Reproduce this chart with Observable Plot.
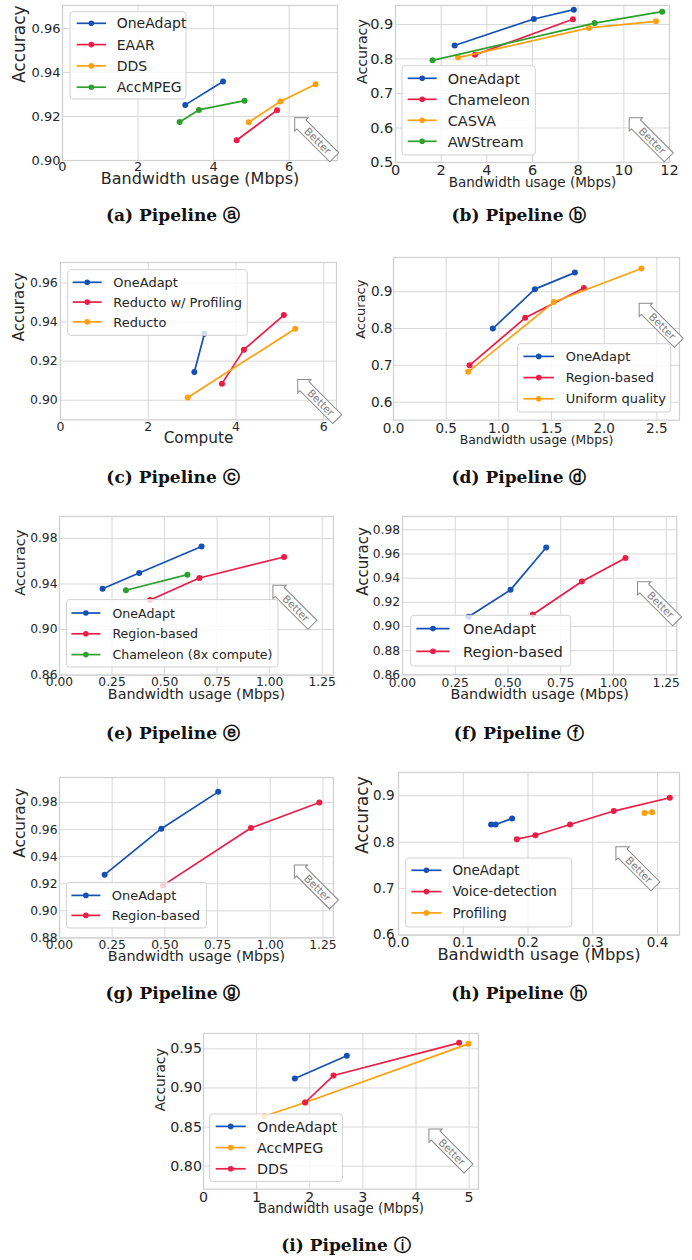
<!DOCTYPE html>
<html><head><meta charset="utf-8">
<script src="https://cdn.jsdelivr.net/npm/d3@7"></script>
<script src="https://cdn.jsdelivr.net/npm/@observablehq/plot@0.6"></script>
<style>
body{margin:0;background:#fff;}
#root{position:relative;width:692px;height:1260px;overflow:hidden;background:#fff;}
.cap{position:absolute;width:346px;text-align:center;font-family:"DejaVu Serif",serif;font-weight:bold;font-size:17px;color:#111;line-height:20px;}
</style></head><body><div id="root"></div>
<script>
// ---------- data ----------
const aSeries = ["OneAdapt","EAAR","DDS","AccMPEG"];
const aX = [[3.25,4.25],[4.61,5.68],[4.93,5.77,6.70],[3.10,3.61,4.82]];
const aY = [[0.9253,0.9359],[0.9092,0.9229],[0.9174,0.9268,0.9347],[0.9175,0.9230,0.9272]];
const aXTicks = [0,2,4,6];
const aYTicks = [0.90,0.92,0.94,0.96];

const bSeries = ["OneAdapt","Chameleon","CASVA","AWStream"];
const bX = [[2.59,6.06,7.81],[3.48,7.77],[2.74,8.47,11.41],[1.62,8.72,11.68]];
const bY = [[0.839,0.916,0.943],[0.812,0.915],[0.804,0.890,0.909],[0.796,0.904,0.937]];
const bXTicks = [0,2,4,6,8,10,12];
const bYTicks = [0.5,0.6,0.7,0.8,0.9];

const cSeries = ["OneAdapt","Reducto w/ Profiling","Reducto"];
const cX = [[3.05,3.28],[3.68,4.18,5.09],[2.90,5.35]];
const cY = [[0.9145,0.934],[0.9085,0.9259,0.9436],[0.9014,0.9366]];
const cXTicks = [0,2,4,6];
const cYTicks = [0.90,0.92,0.94,0.96];

const dSeries = ["OneAdapt","Region-based","Uniform quality"];
const dX = [[0.943,1.342,1.722],[0.722,1.25,1.807],[0.709,1.522,2.354]];
const dY = [[0.800,0.907,0.952],[0.700,0.829,0.910],[0.6825,0.872,0.963]];
const dXTicks = [0,0.5,1.0,1.5,2.0,2.5];
const dYTicks = [0.6,0.7,0.8,0.9];

const eSeries = ["OneAdapt","Region-based","Chameleon (8x compute)"];
const eX = [[0.205,0.379,0.676],[0.431,0.666,1.069],[0.316,0.609]];
const eY = [[0.9359,0.9496,0.973],[0.926,0.9453,0.9637],[0.9345,0.9482]];
const eXTicks = [0,0.25,0.5,0.75,1.0,1.25];
const eYTicks = [0.86,0.90,0.94,0.98];

const fSeries = ["OneAdapt","Region-based"];
const fX = [[0.313,0.512,0.681],[0.618,0.850,1.057]];
const fY = [[0.908,0.9303,0.9654],[0.9099,0.9372,0.9566]];
const fXTicks = [0,0.25,0.5,0.75,1.0,1.25];
const fYTicks = [0.86,0.88,0.90,0.92,0.94,0.96,0.98];

const gSeries = ["OneAdapt","Region-based"];
const gX = [[0.214,0.483,0.753],[0.491,0.908,1.233]];
const gY = [[0.9267,0.9607,0.9879],[0.9188,0.9612,0.980]];
const gXTicks = [0,0.25,0.5,0.75,1.0,1.25];
const gYTicks = [0.88,0.90,0.92,0.94,0.96,0.98];

const hSeries = ["OneAdapt","Voice-detection","Profiling"];
const hX = [[0.143,0.150,0.1755],[0.1827,0.2115,0.265,0.3325,0.419],[0.380,0.3917]];
const hY = [[0.838,0.838,0.851],[0.8065,0.815,0.838,0.867,0.8957],[0.8626,0.8647]];
const hXTicks = [0,0.1,0.2,0.3,0.4];
const hYTicks = [0.6,0.7,0.8,0.9];

const iSeries = ["OndeAdapt","AccMPEG","DDS"];
const iX = [[1.719,2.698],[1.142,1.913,4.987],[1.913,2.447,4.812]];
const iY = [[0.9121,0.9411],[0.8639,0.8814,0.9564],[0.8814,0.9159,0.9577]];
const iXTicks = [0,1,2,3,4,5];
const iYTicks = [0.80,0.85,0.90,0.95];

const captions = ["(a) Pipeline ⓐ","(b) Pipeline ⓑ","(c) Pipeline ⓒ","(d) Pipeline ⓓ","(e) Pipeline ⓔ","(f) Pipeline ⓕ","(g) Pipeline ⓖ","(h) Pipeline ⓗ","(i) Pipeline ⓘ"];

// ---------- styling / layout ----------
const BLUE="#1551b5", RED="#eb1c45", ORANGE="#ffa00f", GREEN="#2ca02c";
const BW = "Bandwidth usage (Mbps)";
const f0 = d3.format("d"), f1 = d3.format(".1f"), f2 = d3.format(".2f");

const panels = [
 {series:aSeries, xs:aX, ys:aY, colors:[BLUE,RED,ORANGE,GREEN], xTicks:aXTicks, yTicks:aYTicks, xFmt:f0, yFmt:f2, xLabel:BW,
  frame:[62,337,5,160], xDomain:[0,7.28], yDomain:[0.90,0.9705], tickFs:13, xPad:1.2, yPad:2, xlFs:16, xlDy:23.5, ylFs:17, ylDx:-43,
  legend:{box:[70,11.7,186,99], row0:23.3, step:21.3, lx:[76.7,106], tx:116.7, fs:14}, arrow:[314.5,137.5], cap:[173,215]},
 {series:bSeries, xs:bX, ys:bY, colors:[BLUE,RED,ORANGE,GREEN], xTicks:bXTicks, yTicks:bYTicks, xFmt:f0, yFmt:f1, xLabel:BW,
  frame:[395,669,5,162], xDomain:[0,12], yDomain:[0.5,0.955], tickFs:14.5, xPad:2.5, yPad:2.3, xlFs:13.5, xlDy:24.5, ylFs:14.2, ylDx:-33.3,
  legend:{box:[402,65.7,535.3,155], row0:78.3, step:21, lx:[407.7,436.7], tx:447.7, fs:14.5}, arrow:[649,137.5], cap:[519,215]},
 {series:cSeries, xs:cX, ys:cY, colors:[BLUE,RED,ORANGE], xTicks:cXTicks, yTicks:cYTicks, xFmt:f0, yFmt:f2, xLabel:"Compute",
  frame:[60,336,261.7,419], xDomain:[0,6.29], yDomain:[0.89,0.9705], tickFs:12.5, xPad:2, yPad:2.7, xlFs:15.3, xlDy:23.5, ylFs:15, ylDx:-41,
  legend:{box:[67.7,269.3,247.3,335], row0:282, step:19.8, lx:[72.7,101.7], tx:113.3, fs:13}, arrow:[317.5,399], cap:[173,477]},
 {series:dSeries, xs:dX, ys:dY, colors:[BLUE,RED,ORANGE], xTicks:dXTicks, yTicks:dYTicks, xFmt:f1, yFmt:f1, xLabel:BW,
  frame:[393.3,679.3,257.3,420], xDomain:[0,2.715], yDomain:[0.551,0.993], tickFs:13.6, xPad:3.5, yPad:1, xlFs:12.4, xlDy:24, ylFs:13, ylDx:-32.3,
  legend:{box:[517.7,344,671,412.3], row0:356.7, step:21.2, lx:[523.7,554.3], tx:566, fs:13}, arrow:[659.3,323.3], cap:[519,477]},
 {series:eSeries, xs:eX, ys:eY, colors:[BLUE,RED,GREEN], xTicks:eXTicks, yTicks:eYTicks, xFmt:f2, yFmt:f2, xLabel:BW,
  frame:[59.3,333.3,515.7,674.3], xDomain:[0,1.304], yDomain:[0.86,0.9993], tickFs:12.3, xPad:2.6, yPad:2, xlFs:14.3, xlDy:24.3, ylFs:14.5, ylDx:-39.3,
  legend:{box:[66.7,599.3,278.3,666.7], row0:612.7, step:20.8, lx:[71.7,100.7], tx:112.7, fs:12.6}, arrow:[293,604.7], cap:[173,733]},
 {series:fSeries, xs:fX, ys:fY, colors:[BLUE,RED], xTicks:fXTicks, yTicks:fYTicks, xFmt:f2, yFmt:f2, xLabel:BW,
  frame:[401.7,676,515.7,674], xDomain:[0,1.30], yDomain:[0.86,0.991], tickFs:12.3, xPad:3, yPad:2.4, xlFs:14.4, xlDy:24.5, ylFs:15, ylDx:-39,
  legend:{box:[410.3,615,570.3,665.7], row0:628.3, step:22.7, lx:[416,449.3], tx:462.7, fs:14.7}, arrow:[657,601.3], cap:[519,733]},
 {series:gSeries, xs:gX, ys:gY, colors:[BLUE,RED], xTicks:gXTicks, yTicks:gYTicks, xFmt:f2, yFmt:f2, xLabel:BW,
  frame:[59.3,333.3,777.3,937.7], xDomain:[0,1.30], yDomain:[0.88,0.9985], tickFs:12.3, xPad:2.2, yPad:2, xlFs:14.3, xlDy:23, ylFs:15.3, ylDx:-39.3,
  legend:{box:[66.7,882.7,206.7,928.3], row0:895.7, step:20, lx:[71.7,100.7], tx:112, fs:13}, arrow:[314.5,885], cap:[173,993]},
 {series:hSeries, xs:hX, ys:hY, colors:[BLUE,RED,ORANGE], xTicks:hXTicks, yTicks:hYTicks, xFmt:f1, yFmt:f1, xLabel:BW,
  frame:[398.3,679.3,771.7,934.3], xDomain:[0,0.434], yDomain:[0.6,0.95], tickFs:13.5, xPad:2, yPad:4, xlFs:16.4, xlDy:24.5, ylFs:17, ylDx:-35.6,
  legend:{box:[406,857.7,572,926.7], row0:870, step:21.3, lx:[411.7,441.7], tx:452.7, fs:13.5}, arrow:[636,866.3], cap:[519,993]},
 {series:iSeries, xs:iX, ys:iY, colors:[BLUE,ORANGE,RED], xTicks:iXTicks, yTicks:iYTicks, xFmt:f0, yFmt:f2, xLabel:BW,
  frame:[203.3,478.3,1033.3,1189], xDomain:[0,5.176], yDomain:[0.7706,0.9696], tickFs:14.2, xPad:2.8, yPad:1.6, xlFs:13.4, xlDy:24, ylFs:13.8, ylDx:-43.3,
  legend:{box:[210,1114.3,342.7,1181.7], row0:1126.7, step:21.2, lx:[216,246], tx:257.3, fs:14.3}, arrow:[449,1149], cap:[346,1245]}
];

const root = document.getElementById("root");

function legendMark(p, ox, oy) {
  return () => {
    const L = p.legend;
    const g = d3.create("svg:g").attr("text-anchor", "start");
    g.append("rect").attr("x", L.box[0]-ox).attr("y", L.box[1]-oy)
      .attr("width", L.box[2]-L.box[0]).attr("height", L.box[3]-L.box[1]).attr("rx", 3)
      .attr("fill", "white").attr("fill-opacity", 0.8).attr("stroke", "#d2d2d2").attr("stroke-width", 1);
    p.series.forEach((s, i) => {
      const y = L.row0 + i*L.step - oy;
      g.append("line").attr("x1", L.lx[0]-ox).attr("x2", L.lx[1]-ox).attr("y1", y).attr("y2", y)
        .attr("stroke", p.colors[i]).attr("stroke-width", 1.7);
      g.append("circle").attr("cx", (L.lx[0]+L.lx[1])/2-ox).attr("cy", y).attr("r", 2.8).attr("fill", p.colors[i]).attr("stroke", "none");
      g.append("text").attr("x", L.tx-ox).attr("y", y).attr("dy", "0.36em").attr("text-anchor", "start")
        .attr("font-size", L.fs).attr("fill", "#262626").text(s);
    });
    return g.node();
  };
}

function arrowMark(p, ox, oy) {
  return () => {
    const [cx, cy] = p.arrow;
    const Lh = 28, dx = 6.3, u0 = -Lh + 1.5*dx, u1 = Lh;
    const g = d3.create("svg:g").attr("transform", `translate(${cx-ox},${cy-oy}) rotate(45)`);
    g.append("path").attr("d", `M${u0},${-dx}L${u1},${-dx}L${u1},${dx}L${u0},${dx}L${u0},${1.5*dx}L${-Lh},0L${u0},${-1.5*dx}Z`)
      .attr("fill", "white").attr("stroke", "#8a8a8a").attr("stroke-width", 1);
    g.append("text").attr("x", (u0+u1)/2).attr("y", 0).attr("dy", "0.36em").attr("text-anchor", "middle")
      .attr("font-size", 10.5).attr("fill", "#808080").text("Better");
    return g.node();
  };
}

panels.forEach((p, k) => {
  const [fl, fr, ft, fb] = p.frame;
  const mL = 72, mR = 14, mT = 14, mB = 50;
  const ox = fl - mL, oy = ft - mT;
  const marks = [
    Plot.gridX(p.xTicks, {stroke: "#d8d8d8", strokeOpacity: 1, strokeWidth: 1}),
    Plot.gridY(p.yTicks, {stroke: "#d8d8d8", strokeOpacity: 1, strokeWidth: 1}),
    Plot.frame({stroke: "#cfcfcf", strokeWidth: 1.2}),
    Plot.axisX(p.xTicks, {tickSize: 0, tickPadding: p.xPad, fontSize: p.tickFs, tickFormat: p.xFmt, label: null}),
    Plot.axisY(p.yTicks, {tickSize: 0, tickPadding: p.yPad, fontSize: p.tickFs, tickFormat: p.yFmt, label: null}),
    Plot.text([p.xLabel], {text: d => d, frameAnchor: "bottom", dy: p.xlDy, fontSize: p.xlFs}),
    Plot.text(["Accuracy"], {text: d => d, frameAnchor: "left", rotate: -90, dx: p.ylDx, fontSize: p.ylFs})
  ];
  p.series.forEach((s, i) => {
    const d = p.xs[i].map((x, j) => ({series: s, x, y: p.ys[i][j]}));
    marks.push(Plot.line(d, {x: "x", y: "y", stroke: p.colors[i], strokeWidth: 1.7}));
    marks.push(Plot.dot(d, {x: "x", y: "y", fill: p.colors[i], r: 3}));
  });
  marks.push(legendMark(p, ox, oy));
  marks.push(arrowMark(p, ox, oy));
  const svg = Plot.plot({
    width: fr - fl + mL + mR, height: fb - ft + mT + mB,
    marginLeft: mL, marginRight: mR, marginTop: mT, marginBottom: mB,
    x: {domain: p.xDomain}, y: {domain: p.yDomain},
    style: {fontFamily: "DejaVu Sans", color: "#262626", background: "transparent", overflow: "visible"},
    marks
  });
  svg.style.position = "absolute";
  svg.style.left = ox + "px";
  svg.style.top = oy + "px";
  svg.style.maxWidth = "none";
  root.appendChild(svg);

  const cap = document.createElement("div");
  cap.className = "cap";
  cap.textContent = captions[k];
  cap.style.left = (p.cap[0] - 173) + "px";
  cap.style.top = (p.cap[1] - 10) + "px";
  root.appendChild(cap);
});
</script></body></html>
